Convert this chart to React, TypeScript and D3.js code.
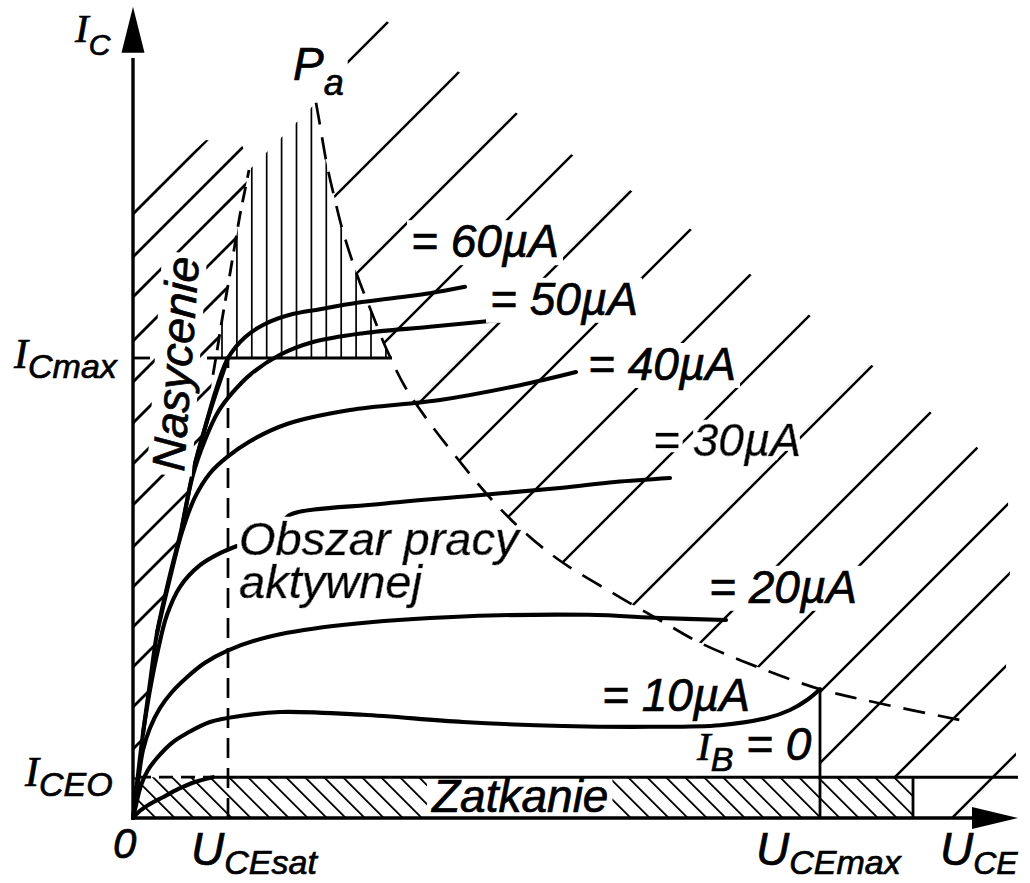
import React, { useEffect, useRef } from "react";
import * as d3 from "d3";

type Pt = [number, number]; // [U_CE in V, I_C in mA]

const SANS = "'Liberation Sans', Arial, sans-serif";
const SERIF = "'Liberation Serif', 'Times New Roman', serif";

const ICMAX = 57.5;
const ICEO = 5.1;
const UCESAT = 4.75;
const UCEMAX = 34.35;
const U_CUTOFF_END = 39;

// boundary of the saturation region
const saturationSolid: Pt[] = [
  [0, 0], [0.25, 5.4], [0.5, 10.6], [0.85, 16.9], [1.2, 23.1], [1.85, 30.4],
  [2.45, 36.4], [3.0, 43.3], [3.6, 48.8], [4.15, 53.1], [4.75, 57.5],
];
const saturationDashed: Pt[] = [
  [4.0, 55.4], [4.15, 57.6], [4.45, 62.25], [4.75, 66.6], [5.05, 71],
  [5.35, 75.4], [5.6, 78.5], [5.8, 81],
];
const saturationTop: Pt[] = [[0, 76.6], [3.65, 84.75], [5.45, 84.1], [5.95, 81.25]];

// max power dissipation curve Pa
const powerHyperbola: Pt[] = [
  [9.15, 89.4], [9.35, 86.6], [9.7, 81.6], [10.1, 77.25], [10.45, 73.75], [11.2, 67.9],
  [11.95, 63.1], [12.65, 58.75], [13.6, 53.9], [14.65, 50], [16.2, 45], [17.95, 39.75],
  [19.45, 36], [21.3, 32.25], [24, 28.1], [26.5, 24.5], [28.35, 21.9], [31.2, 18.9],
  [34.35, 16.1], [37.2, 14.4], [41.35, 12.25],
];

// outer edge of the hatched (forbidden) band
const forbiddenOuter: Pt[] = [
  [9.85, 93.5], [12.6, 99.75], [16.3, 93.25], [19.2, 88.1], [21.95, 82.9], [24.85, 78.5],
  [27.95, 73.5], [30.9, 67.9], [33.8, 62.9], [37.05, 56.4], [39.95, 50.6], [42.25, 46.25],
  [43.75, 39.75], [43.85, 31], [43.65, 18.75], [44.15, 7.9], [44.35, 0],
];

// output characteristics I_C(U_CE) for each base current
const ib60: Pt[] = [
  [3.0, 43.25], [3.6, 48.75], [4.15, 53.5], [4.75, 57.5], [5.6, 60.1], [6.6, 61.75],
  [7.85, 62.9], [9.35, 63.6], [11.2, 64.4], [13.35, 65.1], [14.85, 65.6], [16.6, 66.4],
];
const ib50: Pt[] = [
  [2.45, 36.4], [3.0, 42.9], [3.6, 47.25], [4.25, 50.75], [4.95, 53.1], [5.85, 55.4],
  [7.35, 57.9], [9.0, 59.5], [11.5, 60.6], [14.85, 61.4], [18.35, 62.25],
];
const ib40: Pt[] = [
  [1.2, 23.1], [1.85, 30], [2.45, 35.75], [3.1, 40.1], [3.85, 43.1], [4.7, 45.1],
  [5.85, 47.1], [7.7, 49.25], [10.85, 51], [15.35, 52.25], [19.35, 54.1], [22.15, 55.75],
];
const ib30a: Pt[] = [
  [0.5, 10.6], [0.85, 16], [1.25, 21], [1.7, 25.4], [2.35, 28.9], [3.35, 31.6],
  [4.35, 33.1], [5.2, 34],
];
const ib30b: Pt[] = [
  [7.5, 36.9], [7.85, 37.9], [12.35, 39.25], [16.85, 40.25], [21.35, 41.25], [24.1, 42],
  [26.85, 42.5],
];
const ib20: Pt[] = [
  [0, 0], [0.1, 1.6], [0.3, 5.4], [0.5, 8.5], [0.85, 11.25], [1.35, 13.75], [1.95, 15.75],
  [2.7, 17.6], [3.6, 19.4], [4.7, 20.9], [6.7, 22.6], [10, 24], [15.7, 25.1], [22.75, 25.4],
  [26.35, 25], [29.65, 24.75],
];
const ib10: Pt[] = [
  [0, 0], [0.15, 1.6], [0.4, 4.1], [0.75, 6], [1.2, 7.5], [1.95, 9.4], [2.7, 10.6],
  [3.85, 12], [5.35, 12.75], [7.35, 13.25], [11.5, 12.9], [16.5, 12], [21.5, 11.5],
  [25.85, 11.4], [29.35, 11.6], [31.7, 12.5], [32.85, 13.5], [33.7, 14.75], [34.35, 16.1],
];
const ib0: Pt[] = [[0, 0], [0.35, 0.9], [0.85, 1.75], [1.5, 2.6], [2.25, 3.6], [3.1, 4.5], [4.0, 5.1]];

// hatch lines, given by their U intercept on the I = 0 line
const hatchForbidden = [
  -27.05, -21, -16.05, -11.2, -6.45, -1.55, 3.7, 8.7, 14.35, 19.6, 23.7, 28.05, 31.6, 36.05, 40.95,
];
const hatchSaturation = [
  -30.2, -28.05, -26.05, -23.85, -21.8, -19.75, -17.7, -15.65, -13.55, -11.55, -9.55, -7.55,
  -5.55, -3.45, -1.45,
];

const baseLabels = ["= 60µA", "= 50µA", "= 40µA", "= 30µA", "= 20µA", "= 10µA"];

type Part = { t: string; serif?: boolean; size?: number; dy?: number; newline?: number };

export default function App() {
  const ref = useRef<SVGSVGElement>(null);

  useEffect(() => {
    const svg = d3.select(ref.current);
    svg.selectAll("*").remove();

    const x = d3.scaleLinear().domain([0, 44]).range([133, 1013]);
    const y = d3.scaleLinear().domain([0, 101]).range([818, 10]);
    const smooth = d3.line<Pt>().x((d) => x(d[0])).y((d) => y(d[1])).curve(d3.curveCatmullRom.alpha(0.5));
    const straight = d3.line<Pt>().x((d) => x(d[0])).y((d) => y(d[1]));

    svg.append("rect").attr("width", 1030).attr("height", 883).attr("fill", "#fff");
    const defs = svg.append("defs");
    const clip = (id: string, d: string) => defs.append("clipPath").attr("id", id).append("path").attr("d", d);

    // white halo behind a text, same element
    const halo = defs.append("filter").attr("id", "halo")
      .attr("x", "-10%").attr("y", "-20%").attr("width", "120%").attr("height", "140%");
    halo.append("feMorphology").attr("in", "SourceAlpha").attr("operator", "dilate")
      .attr("radius", 4).attr("result", "fat");
    halo.append("feFlood").attr("flood-color", "#fff").attr("result", "white");
    halo.append("feComposite").attr("in", "white").attr("in2", "fat").attr("operator", "in").attr("result", "bg");
    const merge = halo.append("feMerge");
    merge.append("feMergeNode").attr("in", "bg");
    merge.append("feMergeNode").attr("in", "SourceGraphic");

    // forbidden region (above Pa, right of UCEmax)
    const hypIn = powerHyperbola.filter((d) => d[0] <= UCEMAX);
    const outer: Pt[] = [
      hypIn[0], ...forbiddenOuter, [U_CUTOFF_END, 0], [U_CUTOFF_END, ICEO], [UCEMAX, ICEO],
    ];
    clip("clipUpper", straight(outer) + "L" + smooth([...hypIn].reverse())!.slice(1) + "Z");

    // saturation region
    const satPoly: Pt[] = [
      [0, 0], ...saturationTop, ...[...saturationDashed].reverse(),
      ...saturationSolid.filter((d) => d[1] < 52).reverse(),
    ];
    clip("clipSat", straight(satPoly) + "Z");

    // region above ICmax under Pa
    const dashUp = saturationDashed.filter((d) => d[1] >= ICMAX);
    const hypUp = powerHyperbola.filter((d) => d[1] >= ICMAX);
    clip(
      "clipPa",
      straight([[3.7, ICMAX], ...dashUp])! + "L" + smooth(hypUp)!.slice(1) +
        `L${x(12.95)},${y(ICMAX)}Z`
    );

    clip("clipCut", `M${x(0)},${y(ICEO)}H${x(U_CUTOFF_END)}V${y(0)}H${x(0)}Z`);

    const diag = (u0: number) => {
      const px = x(u0), py = y(0);
      return `M${px - 300},${py + 300}L${px + 1200},${py - 1200}`;
    };

    svg.append("g").attr("clip-path", "url(#clipUpper)")
      .selectAll("path").data(hatchForbidden).join("path")
      .attr("d", diag).attr("stroke", "#000").attr("stroke-width", 2.5);

    svg.append("g").attr("clip-path", "url(#clipSat)")
      .selectAll("path").data(hatchSaturation).join("path")
      .attr("d", diag).attr("stroke", "#000").attr("stroke-width", 2.7);

    svg.append("g").attr("clip-path", "url(#clipCut)")
      .selectAll("path").data(d3.range(1.0 - 0.95 * 3, 40, 0.95)).join("path")
      .attr("d", (u) => `M${x(u) - 20},${y(ICEO) - 20}L${x(u) + 70},${y(ICEO) + 70}`)
      .attr("stroke", "#000").attr("stroke-width", 1.8);

    svg.append("g").attr("clip-path", "url(#clipPa)")
      .selectAll("path").data(d3.range(4.45, 13.0, 0.745)).join("path")
      .attr("d", (u) => `M${x(u)},${y(ICMAX)}V${y(96)}`)
      .attr("stroke", "#000").attr("stroke-width", 1.7);

    // dashed lines
    const dashed = (d: string, dash: string, w = 2.7) =>
      svg.append("path").attr("d", d).attr("fill", "none").attr("stroke", "#000")
        .attr("stroke-width", w).attr("stroke-dasharray", dash);
    dashed(smooth(powerHyperbola)!, "22,13");
    dashed(smooth(saturationDashed)!, "16,9", 2.8);
    dashed(straight([[UCESAT, 0], [UCESAT, ICMAX]])!, "20,10");
    dashed(straight([[0.2, ICEO], [3.6, ICEO]])!, "14,8");

    // characteristics
    const curves = [saturationSolid, ib60, ib50, ib40, ib30a, ib30b, ib20, ib10, ib0];
    svg.append("g").selectAll("path").data(curves).join("path")
      .attr("d", (d) => smooth(d)).attr("fill", "none").attr("stroke", "#000")
      .attr("stroke-width", 4.1).attr("stroke-linecap", "round");

    // labels
    const label = (
      u: number, i: number, parts: Part[],
      o: { size?: number; rotate?: number; bg?: boolean; halo?: boolean } = {}
    ) => {
      const size = o.size ?? 46;
      const g = svg.append("g")
        .attr("transform", `translate(${x(u)},${y(i)})${o.rotate ? ` rotate(${o.rotate})` : ""}`);
      const t = g.append("text").attr("font-family", SANS).attr("font-style", "italic")
        .attr("font-size", size).attr("fill", "#000")
        .attr("stroke", "#000").attr("stroke-width", 0.7);
      let off = 0;
      parts.forEach((p) => {
        const dy = p.dy ?? 0;
        const s = t.append("tspan").attr("font-family", p.serif ? SERIF : SANS)
          .attr("font-size", p.size ?? size).text(p.t);
        if (p.newline) s.attr("x", 0).attr("dy", p.newline);
        else s.attr("dy", dy - off);
        off = dy;
      });
      if (o.halo) t.attr("filter", "url(#halo)");
      if (o.bg) {
        const b = (t.node() as SVGTextElement).getBBox();
        g.insert("rect", "text").attr("x", b.x - 4).attr("y", b.y + 5)
          .attr("width", b.width + 8).attr("height", b.height - 7).attr("fill", "#fff");
      }
    };

    label(13.9, 70.1, [{ t: baseLabels[0] }], { bg: true });
    label(17.85, 62.9, [{ t: baseLabels[1] }], { bg: true });
    label(22.75, 54.75, [{ t: baseLabels[2] }], { bg: true });
    label(26, 45.25, [{ t: baseLabels[3] }], { halo: true });
    label(28.8, 26.9, [{ t: baseLabels[4] }], { bg: true });
    label(23.45, 13.4, [{ t: baseLabels[5] }]);
    label(28.2, 7.25, [
      { t: "I", serif: true, size: 41 }, { t: "B", size: 34, dy: 11 }, { t: " = 0", dy: 0 },
    ]);
    label(5.3, 32.9, [{ t: "Obszar pracy" }, { t: "aktywnej", newline: 43 }], { size: 47, halo: true });
    label(14.95, 0.75, [{ t: "Zatkanie" }], { bg: true });
    label(2.55, 43.25, [{ t: "Nasycenie" }], { rotate: -86, bg: true });
    label(8, 92.25, [{ t: "P" }, { t: "a", size: 36, dy: 15 }], { bg: true });
    label(-2.9, 97, [{ t: "I", serif: true, size: 41 }, { t: "C", size: 30, dy: 13 }]);
    label(-5.95, 56.25, [{ t: "I", serif: true, size: 42 }, { t: "Cmax", size: 34, dy: 10 }]);
    label(-5.4, 4, [{ t: "I", serif: true, size: 42 }, { t: "CEO", size: 34, dy: 10 }]);
    label(-1, -5, [{ t: "0", size: 42 }]);
    label(2.9, -5.9, [{ t: "U" }, { t: "CEsat", size: 34, dy: 9 }]);
    label(31.15, -5.9, [{ t: "U" }, { t: "CEmax", size: 34, dy: 9 }]);
    label(40.35, -5.9, [{ t: "U" }, { t: "CE", size: 32, dy: 9 }]);

    // solid boundary lines
    const solid = (pts: Pt[], w = 2.8) =>
      svg.append("path").attr("d", straight(pts)!).attr("fill", "none")
        .attr("stroke", "#000").attr("stroke-width", w);
    solid([[3.7, ICMAX], [12.95, ICMAX]]);
    solid([[0, ICMAX], [0.85, ICMAX]]);
    solid([[3.6, ICEO], [44.25, ICEO]], 3);
    solid([[UCEMAX, 0], [UCEMAX, 16.1]]);
    solid([[U_CUTOFF_END, 0], [U_CUTOFF_END, ICEO]]);

    // axes
    solid([[0, 0], [0, 95]], 3.4);
    solid([[0, 0], [42, 0]], 3.4);
    const tipY = y(101.4), tipX = x(44.25);
    svg.append("path").attr("d", `M${x(0)},${tipY}L${x(0) - 11.5},${tipY + 46}L${x(0) + 11.5},${tipY + 46}Z`);
    svg.append("path").attr("d", `M${tipX},${y(0)}L${tipX - 46},${y(0) - 11}L${tipX - 46},${y(0) + 11}Z`);
  }, []);

  return (
    <svg
      ref={ref}
      width={1030}
      height={883}
      style={{ position: "absolute", left: 0, top: 0, display: "block" }}
    />
  );
}
